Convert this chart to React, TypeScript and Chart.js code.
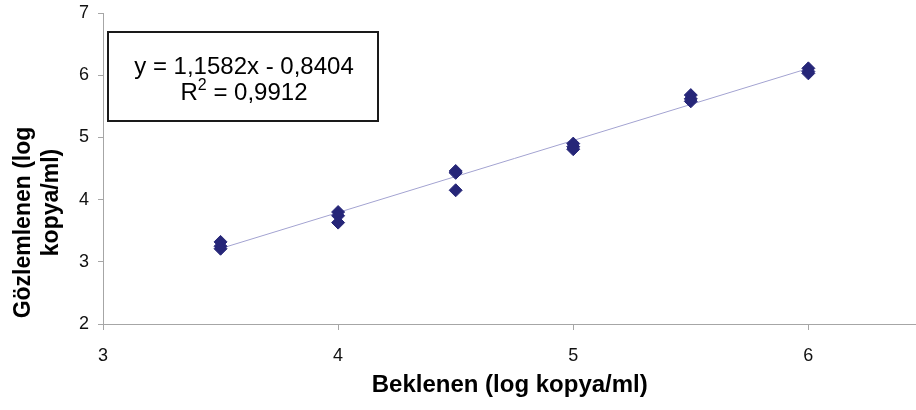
import React, { useEffect, useRef } from 'react';
import { Chart, registerables } from 'chart.js';

Chart.register(...registerables);

// ---- data ----
const expectedX = [3.5, 3.5, 3.5, 4, 4, 4, 4.5, 4.5, 4.5, 5, 5, 5, 5.5, 5.5, 5.5, 6, 6, 6];
const observedY = [3.32, 3.25, 3.21, 3.8, 3.74, 3.63, 4.46, 4.43, 4.15, 4.9, 4.85, 4.81, 5.68, 5.62, 5.58, 6.11, 6.06, 6.03];
const trendSlope = 1.1582;
const trendIntercept = -0.8404;
const trendRangeX = [3.5, 6];
const xTickValues = [3, 4, 5, 6];
const yTickValues = [2, 3, 4, 5, 6, 7];
const equationLine = 'y = 1,1582x - 0,8404';
const r2Label = 'R';
const r2Sup = '2';
const r2Value = ' = 0,9912';
const xTitle = 'Beklenen (log kopya/ml)';
const yTitleLines = ['Gözlemlenen (log', 'kopya/ml)'];

const FONT = "'Liberation Sans', Arial, sans-serif";

export default function App() {
  const canvasRef = useRef<HTMLCanvasElement | null>(null);

  useEffect(() => {
    const canvas = canvasRef.current;
    if (!canvas) return;

    const points = expectedX.map((x, i) => ({ x, y: observedY[i] }));
    const trend = trendRangeX.map((x) => ({ x, y: trendSlope * x + trendIntercept }));

    const overlay = {
      id: 'overlay',
      afterDraw(chart: any) {
        const ctx = chart.ctx;
        const area = chart.chartArea;
        ctx.save();
        // equation box
        ctx.strokeStyle = '#1a1a1a';
        ctx.lineWidth = 2;
        ctx.fillStyle = '#ffffff';
        const bx = area.left + 5, by = area.top + 19, bw = 270, bh = 89;
        ctx.fillRect(bx, by, bw, bh);
        ctx.strokeRect(bx, by, bw, bh);
        ctx.fillStyle = '#000000';
        ctx.textBaseline = 'alphabetic';
        ctx.font = `24px ${FONT}`;
        ctx.textAlign = 'center';
        const cx = bx + bw / 2 + 1;
        ctx.fillText(equationLine, cx, by + 42);
        // R² line
        const mainW = ctx.measureText(r2Label).width + ctx.measureText(r2Value).width;
        ctx.font = `16px ${FONT}`;
        const supW = ctx.measureText(r2Sup).width;
        const total = mainW + supW;
        let x0 = cx - total / 2;
        ctx.textAlign = 'left';
        ctx.font = `24px ${FONT}`;
        ctx.fillText(r2Label, x0, by + 68);
        x0 += ctx.measureText(r2Label).width;
        ctx.font = `16px ${FONT}`;
        ctx.fillText(r2Sup, x0, by + 58);
        x0 += supW;
        ctx.font = `24px ${FONT}`;
        ctx.fillText(r2Value, x0, by + 68);

        // y axis title (two rotated lines)
        ctx.font = `bold 23px ${FONT}`;
        ctx.textAlign = 'center';
        ctx.textBaseline = 'middle';
        const yCenter = (area.top + area.bottom) / 2 + 54;
        ctx.translate(24, yCenter);
        ctx.rotate(-Math.PI / 2);
        ctx.fillText(yTitleLines[0], 0, 0);
        ctx.fillText(yTitleLines[1], 20, 28);
        ctx.restore();
      },
    };

    const chart = new Chart(canvas, {
      type: 'scatter',
      data: {
        datasets: [
          {
            type: 'line',
            label: 'Trend',
            data: trend,
            borderColor: '#a3a3d1',
            borderWidth: 1,
            pointRadius: 0,
            fill: false,
            order: 2,
          } as any,
          {
            label: 'Gözlemlenen',
            data: points,
            pointStyle: 'rectRot',
            pointRadius: 6.5,
            backgroundColor: '#262678',
            borderColor: '#262678',
            borderWidth: 1,
            order: 1,
          },
        ],
      },
      options: {
        animation: false,
        responsive: false,
        maintainAspectRatio: false,
        layout: { padding: { top: 13, right: 0, bottom: 0, left: 0 } },
        plugins: { legend: { display: false }, tooltip: { enabled: false } },
        scales: {
          x: {
            type: 'linear',
            min: 3,
            max: 6.46,
            afterBuildTicks: (s: any) => {
              s.ticks = xTickValues.map((v) => ({ value: v }));
            },
            afterFit: (s: any) => {
              s.height = 86;
              s.paddingLeft = 0;
              s.paddingRight = 0;
            },
            border: { display: true, color: '#a6a6a6', width: 1 },
            grid: { drawOnChartArea: false, drawTicks: true, tickLength: 6, color: '#a6a6a6' },
            ticks: {
              color: '#111111',
              font: { family: FONT, size: 18 },
              padding: 15,
              maxRotation: 0,
              autoSkip: false,
            },
            title: {
              display: true,
              text: xTitle,
              color: '#000000',
              font: { family: FONT, size: 24, weight: 'bold' },
              padding: { top: 0, bottom: 10 },
            },
          },
          y: {
            type: 'linear',
            min: 2,
            max: 7,
            afterBuildTicks: (s: any) => {
              s.ticks = yTickValues.map((v) => ({ value: v }));
            },
            afterFit: (s: any) => {
              s.width = 103;
              s.paddingTop = 0;
              s.paddingBottom = 0;
            },
            border: { display: true, color: '#a6a6a6', width: 1 },
            grid: { drawOnChartArea: false, drawTicks: true, tickLength: 5, color: '#a6a6a6' },
            ticks: {
              color: '#111111',
              font: { family: FONT, size: 18 },
              padding: 9,
            },
            title: { display: false },
          },
        },
      },
      plugins: [overlay],
    });

    return () => chart.destroy();
  }, []);

  return (
    <div style={{ position: 'fixed', left: 0, top: 0, width: 916, height: 410, overflow: 'hidden', background: '#fff' }}>
      <canvas ref={canvasRef} width={924} height={410} style={{ display: 'block' }} />
    </div>
  );
}
